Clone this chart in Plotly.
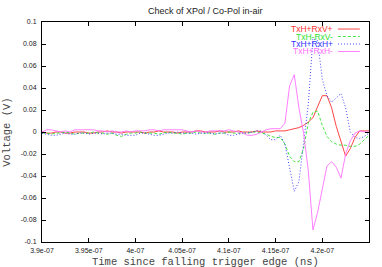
import numpy as np
import plotly.graph_objects as go

# time grid (ns) -> seconds
t_ns = np.arange(390.0, 425.01, 0.5)
time_s = t_ns * 1e-9

series_names = ["TxH+RxV+", "TxH-RxV-", "TxH+RxH+", "TxH+RxH-"]
series_colors = ["#ff3030", "#30e030", "#3030ff", "#ff70ff"]
series_dash = ["solid", "3px,2px", "1px,2px", "solid"]

# baseline 390 .. 411.5 ns (44 samples) + event 412 .. 425 ns (27 samples)
red_v = [
    0.000, -0.001, -0.001, 0.000, 0.000, -0.001, -0.001, 0.000, 0.000, 0.000,
    -0.001, -0.001, 0.000, 0.000, 0.001, 0.000, 0.000, -0.001, 0.000, 0.000,
    0.000, 0.000, -0.001, 0.000, 0.000, 0.001, 0.000, 0.000, 0.000, -0.001,
    0.000, 0.000, 0.000, 0.001, 0.001, 0.000, 0.000, 0.000, 0.001, 0.000,
    0.000, 0.000, 0.001, 0.000,
    0.000, 0.000, 0.001, 0.000, 0.000, 0.000, 0.001, 0.001, 0.001, 0.002,
    0.003, 0.004, 0.006, 0.009, 0.013, 0.023, 0.033, 0.033, 0.022, 0.005,
    -0.009, -0.022, -0.015, -0.005, 0.001, 0.001, 0.001,
]
green_v = [
    -0.001, -0.001, -0.002, -0.001, -0.001, 0.000, -0.001, -0.002, -0.001, -0.001,
    -0.001, 0.000, -0.001, -0.001, -0.002, -0.001, -0.003, -0.004, -0.002, -0.001,
    -0.001, 0.000, -0.001, -0.001, -0.001, -0.002, -0.001, 0.000, -0.001, -0.001,
    -0.002, -0.001, -0.001, 0.000, -0.001, -0.001, -0.001, -0.002, -0.001, -0.001,
    0.000, -0.001, -0.001, -0.001,
    -0.001, 0.000, 0.000, -0.001, -0.002, -0.004, -0.005, -0.005, -0.011, -0.022,
    -0.027, -0.027, -0.015, 0.008, 0.018, 0.019, 0.006, -0.004, -0.009, -0.011,
    -0.012, -0.012, -0.013, -0.013, -0.011, -0.007, -0.003,
]
blue_v = [
    -0.001, -0.002, -0.003, -0.003, -0.002, -0.001, -0.002, -0.002, -0.001, -0.001,
    -0.002, -0.001, -0.001, -0.002, -0.001, -0.001, -0.002, -0.002, -0.003, -0.003,
    -0.003, -0.001, -0.001, -0.002, -0.003, -0.003, -0.002, -0.001, -0.001, 0.000,
    -0.001, -0.001, -0.001, -0.002, -0.001, -0.001, -0.001, -0.002, -0.001, -0.001,
    -0.003, -0.003, -0.002, -0.001,
    -0.001, 0.000, 0.001, 0.001, -0.003, -0.007, -0.007, -0.003, -0.011, -0.032,
    -0.054, -0.045, -0.010, 0.025, 0.085, 0.083, 0.048, 0.033, 0.027, 0.031,
    0.035, 0.022, 0.000, -0.005, -0.006, -0.004, -0.001,
]
magenta_v = [
    0.000, 0.002, 0.002, 0.001, 0.000, 0.001, 0.000, 0.002, 0.002, 0.002,
    0.002, 0.002, 0.001, 0.001, 0.000, 0.001, 0.000, 0.000, 0.001, 0.000,
    0.001, 0.001, 0.001, 0.002, 0.002, 0.001, 0.002, 0.002, 0.002, 0.002,
    0.002, 0.001, 0.000, 0.001, 0.000, 0.000, 0.001, 0.001, 0.001, 0.001,
    0.002, 0.001, 0.000, -0.001,
    -0.003, -0.003, -0.002, 0.000, 0.002, 0.003, 0.003, 0.003, 0.008, 0.042,
    0.052, 0.022, -0.001, -0.035, -0.089, -0.073, -0.052, -0.031, -0.027, -0.032,
    -0.042, -0.020, -0.008, -0.001, 0.001, 0.000, 0.000,
]
series_values = [red_v, green_v, blue_v, magenta_v]

x_tickvals = [3.9e-07, 3.95e-07, 4.0e-07, 4.05e-07, 4.1e-07, 4.15e-07, 4.2e-07, 4.25e-07]
x_ticktext = ["3.9e-07", "3.95e-07", "4e-07", "4.05e-07", "4.1e-07", "4.15e-07", "4.2e-07", "4.25e-07"]
y_tickvals = [0.1, 0.08, 0.06, 0.04, 0.02, 0.0, -0.02, -0.04, -0.06, -0.08, -0.1]
y_ticktext = ["0.1", "0.08", "0.06", "0.04", "0.02", "0", "-0.02", "-0.04", "-0.06", "-0.08", "-0.1"]

fig = go.Figure()
for name, vals, col, dash in zip(series_names, series_values, series_colors, series_dash):
    fig.add_trace(go.Scatter(x=time_s, y=vals, mode="lines", name=name,
                             line=dict(color=col, width=0.9, dash=dash),
                             showlegend=False, hoverinfo="skip"))

# legend (gnuplot style: text right-aligned, sample to the right)
leg_y = [0.968, 0.934, 0.900, 0.866]
for name, col, dash, yy in zip(series_names, series_colors, series_dash, leg_y):
    fig.add_annotation(x=0.895, y=yy, xref="paper", yref="paper", text=name,
                       showarrow=False, xanchor="right", yanchor="middle",
                       font=dict(family="Liberation Sans", size=8.5, color=col))
    fig.add_shape(type="line", xref="paper", yref="paper", x0=0.905, x1=0.972,
                  y0=yy, y1=yy, line=dict(color=col, width=0.9, dash=dash))

fig.add_annotation(x=0.5, y=1.05, xref="paper", yref="paper",
                   text="Check of XPol / Co-Pol in-air", showarrow=False,
                   xanchor="center", yanchor="middle",
                   font=dict(family="Liberation Sans", size=9, color="#222"))
fig.add_annotation(x=0.5, y=-0.091, xref="paper", yref="paper",
                   text="Time since falling trigger edge (ns)", showarrow=False,
                   xanchor="center", yanchor="middle",
                   font=dict(family="Liberation Mono", size=10.5, color="#444"))
fig.add_annotation(x=-0.108, y=0.5, xref="paper", yref="paper",
                   text="Voltage (V)", showarrow=False, textangle=-90,
                   xanchor="center", yanchor="middle",
                   font=dict(family="Liberation Mono", size=10.5, color="#444"))

axis_common = dict(showgrid=False, zeroline=False, showline=True, linecolor="black",
                   linewidth=1, ticks="inside", ticklen=4, tickcolor="black",
                   mirror="ticks", tickfont=dict(family="Liberation Sans", size=7, color="#222"))
fig.update_xaxes(range=[3.9e-07, 4.25e-07], tickmode="array", tickvals=x_tickvals,
                 ticktext=x_ticktext, ticklabelstandoff=2, **axis_common)
fig.update_yaxes(range=[-0.1, 0.1], tickmode="array", tickvals=y_tickvals,
                 ticktext=y_ticktext, ticklabelstandoff=3, **axis_common)

fig.update_layout(width=382, height=267, margin=dict(l=42, r=13, t=22, b=25),
                  plot_bgcolor="white", paper_bgcolor="white", hovermode=False)
fig.write_html("out.html", config={"displayModeBar": False, "staticPlot": True},
               post_script="document.body.style.margin='0';document.body.style.padding='0';")
